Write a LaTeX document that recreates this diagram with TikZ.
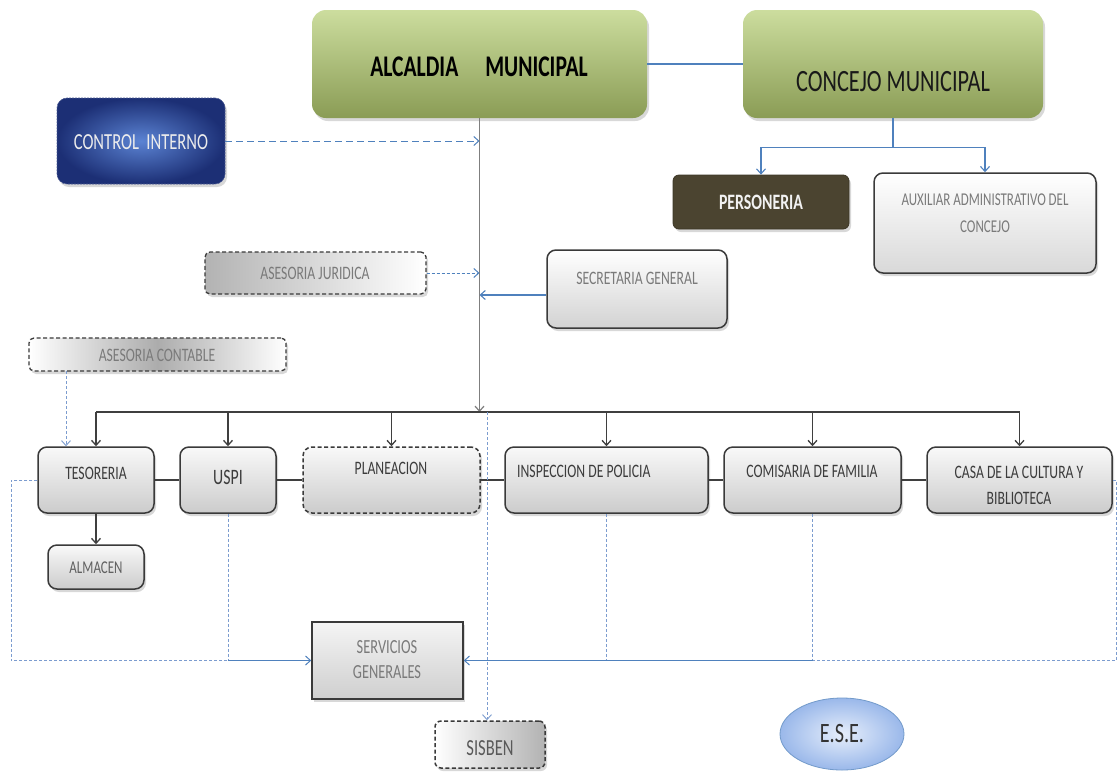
\documentclass[tikz,border=0pt]{standalone}
\usepackage{fontspec}
\setmainfont{Carlito}
\newfontfamily\cf[FakeStretch=0.72]{Carlito}
\usetikzlibrary{arrows.meta,shadows,shapes.geometric,calc}
\definecolor{gtop}{HTML}{CCDD9E}
\definecolor{gbot}{HTML}{8A9C55}
\definecolor{linkblue}{HTML}{4F81BD}
\definecolor{dashblue}{HTML}{7C9CCF}
\definecolor{mainline}{HTML}{7F7F7F}
\definecolor{busline}{HTML}{3F3F3F}
\definecolor{boxline}{HTML}{3A3A3A}
\definecolor{perfill}{HTML}{4B4430}
\definecolor{ciin}{HTML}{5B83D3}
\definecolor{ciout}{HTML}{1C2F75}
\definecolor{txtdark}{HTML}{3C3C3C}
\definecolor{txtmid}{HTML}{7A7A7A}
\definecolor{eseout}{HTML}{9AB8EA}
\definecolor{esein}{HTML}{E6EEFB}
\begin{document}
\begin{tikzpicture}[x=1pt,y=-1pt,
  shadowed/.style={drop shadow={opacity=0.3,shadow xshift=2pt,shadow yshift=-3pt}},
  greenbox/.style={shape=rectangle,rounded corners=14pt,top color=gtop,bottom color=gbot,draw=none,shadowed,inner sep=0pt},
  greybox/.style={shape=rectangle,rounded corners=9pt,draw=boxline,line width=1.5pt,top color=gray!5,bottom color=gray!40,shadowed,inner sep=0pt},
  dashbox/.style={greybox,dash pattern=on 4pt off 2.5pt},
  txt/.style={font=\cf\fontsize{19}{22}\selectfont,text=txtdark,inner sep=0pt,align=center},
  txtlight/.style={txt,text=txtmid},
  arrowend/.style={-{Straight Barb[length=5pt,width=9pt]}},
  bluelink/.style={draw=linkblue,line width=1.1pt},
  bluedash/.style={draw=dashblue,line width=0.9pt,dash pattern=on 3pt off 2pt},
  busl/.style={draw=busline,line width=1.5pt}
]
\fill[white] (0,0) rectangle (1118,774);
\useasboundingbox (0,0) rectangle (1118,774);

% top level
\node[greenbox,minimum width=335pt,minimum height=108pt] (alc) at (479.5,64) {};
\node[txt,text=black,font=\cf\bfseries\fontsize{30}{34}\selectfont] (alcT) at (479,67) {ALCALDIA\hspace{0.9em}MUNICIPAL};
\node[greenbox,minimum width=300pt,minimum height=108pt] (con) at (893,64) {};
\node[txt,text=black!90,font=\cf\fontsize{31}{34}\selectfont] (conT) at (893,82) {CONCEJO MUNICIPAL};

\node[shape=rectangle,rounded corners=10pt,inner color=ciin,outer color=ciout,draw=ciout!80,line width=0.6pt,dash pattern=on 2pt off 1pt,shadowed,minimum width=168pt,minimum height=86pt,inner sep=0pt] (ci) at (141,141) {};
\node[txt,text=gray!15,font=\cf\fontsize{23}{26}\selectfont] (ciT) at (141,142) {CONTROL\ \ INTERNO};

\node[shape=rectangle,rounded corners=6pt,fill=perfill,draw=perfill!80!black,line width=0.8pt,shadowed,minimum width=176pt,minimum height=54pt,inner sep=0pt] (per) at (761,202) {};
\node[txt,text=gray!10,font=\cf\bfseries\fontsize{22}{25}\selectfont] (perT) at (761,202) {PERSONERIA};

\node[greybox,top color=white,bottom color=gray!30,minimum width=222pt,minimum height=100pt] (aux) at (985,223) {};
\node[txtlight,font=\cf\fontsize{18}{27}\selectfont] (auxT) at (985,213) {AUXILIAR ADMINISTRATIVO DEL\\CONCEJO};

\node[dashbox,rounded corners=5pt,line width=1.3pt,left color=gray!60,right color=white,minimum width=221pt,minimum height=42pt] (aj) at (315.5,273) {};
\node[txtlight] (ajT) at (315,273) {ASESORIA JURIDICA};

\node[greybox,top color=white,bottom color=gray!35,minimum width=180pt,minimum height=78pt] (sg) at (637,289) {};
\node[txtlight] (sgT) at (637,278) {SECRETARIA GENERAL};

\node[dashbox,rounded corners=5pt,line width=1.3pt,left color=white,right color=white,middle color=gray!65,minimum width=257pt,minimum height=33pt] (ac) at (157.5,354.5) {};
\node[txtlight] (acT) at (157,355) {ASESORIA CONTABLE};

% second row
\node[greybox,minimum width=116pt,minimum height=66pt] (tes) at (96,480) {};
\node[txt] (tesT) at (96,473) {TESORERIA};
\node[greybox,minimum width=96pt,minimum height=66pt] (uspi) at (228,480) {};
\node[txt,font=\cf\fontsize{22}{25}\selectfont] (uspiT) at (228,477) {USPI};
\node[dashbox,minimum width=177pt,minimum height=66pt] (plan) at (391.5,480) {};
\node[txt] (planT) at (391,468) {PLANEACION};
\node[greybox,minimum width=203pt,minimum height=66pt] (insp) at (606.5,480) {};
\node[txt,anchor=west] (inspT) at (517,471) {INSPECCION DE POLICIA};
\node[greybox,minimum width=177pt,minimum height=66pt] (com) at (812.5,480) {};
\node[txt] (comT) at (812,471) {COMISARIA DE FAMILIA};
\node[greybox,minimum width=185pt,minimum height=66pt] (casa) at (1019.5,480) {};
\node[txt,font=\cf\fontsize{19}{26}\selectfont] (casaT) at (1019,485) {CASA DE LA CULTURA Y\\BIBLIOTECA};

\node[greybox,minimum width=96pt,minimum height=44pt] (alm) at (96,567) {};
\node[txt,font=\cf\fontsize{18}{21}\selectfont,text=gray!75!black] (almT) at (96,568) {ALMACEN};

\node[shape=rectangle,draw=boxline,line width=1.5pt,top color=gray!8,bottom color=gray!38,shadowed,minimum width=151pt,minimum height=77pt,inner sep=0pt] (sv) at (387.5,660.5) {};
\node[txtlight,font=\cf\fontsize{20}{25}\selectfont] (svT) at (387,660) {SERVICIOS\\GENERALES};

\node[dashbox,rounded corners=6pt,left color=white,right color=gray!60,minimum width=110pt,minimum height=47pt] (sis) at (490,744.5) {};
\node[txt,font=\cf\fontsize{23}{26}\selectfont,text=gray!70!black] (sisT) at (490,748) {SISBEN};

\node[shape=ellipse,inner color=esein,outer color=eseout,draw=linkblue!80,line width=0.8pt,minimum width=124pt,minimum height=72pt,inner sep=0pt,font=\cf\fontsize{28}{30}\selectfont,text=black!80] (ese) at (842,734) {E.S.E.};

% connectors top
\draw[bluelink] (alc.east) -- (con.west);
\draw[bluelink] (con.south) -- ++(0,29) coordinate (cj);
\draw[bluelink,arrowend] (cj) -| (per.north);
\draw[bluelink,arrowend] (cj) -| (aux.north);

\coordinate (bus) at (479.5,412);
\draw[draw=mainline,line width=1.2pt,arrowend] (alc.south) -- (bus);
\draw[draw=linkblue,line width=1pt,dash pattern=on 7pt off 4pt,arrowend] (ci.east) -- (ci.east -| alc.south);
\draw[draw=linkblue,line width=1pt,dash pattern=on 3pt off 2pt,arrowend] (aj.east) -- (aj.east -| alc.south);
\draw[bluelink,arrowend] ($(sg.west)+(0,6)$) -- ($(sg.west -| alc.south)+(0,6)$);
\coordinate (acb) at (66,371);
\draw[bluedash,arrowend] (acb) -- (acb |- tes.north);

% bus
\draw[busl] (tes.north |- bus) -- (casa.north |- bus);
\foreach \n in {tes,uspi,plan,insp,com,casa}
  \draw[busl,line width=1.3pt,arrowend] (\n.north |- bus) -- (\n.north);
\draw[busl] (tes.east) -- (uspi.west);
\draw[busl] (uspi.east) -- (plan.west);
\draw[busl] (plan.east) -- (insp.west);
\draw[busl] (insp.east) -- (com.west);
\draw[busl] (com.east) -- (casa.west);
\draw[busl,line width=1.3pt,arrowend] (tes.south) -- (alm.north);

% dashed service lines
\coordinate (lc) at (11,660.5);
\coordinate (rc) at (1116,660.5);
\draw[bluedash] (tes.west) -| (lc) -- (uspi.south |- sv.west);
\draw[bluedash] (uspi.south) -- (uspi.south |- sv.west);
\draw[bluelink,line width=1pt,arrowend] (uspi.south |- sv.west) -- (sv.west);
\draw[bluedash] (casa.east) -| (rc) -- (com.south |- sv.east);
\draw[bluedash] (insp.south) -- (insp.south |- sv.east);
\draw[bluedash] (com.south) -- (com.south |- sv.east);
\draw[bluelink,line width=1pt,arrowend] (com.south |- sv.east) -- (sv.east);
\coordinate (sb) at (487,412);
\draw[bluedash,arrowend] (sb) -- (sb |- sis.north);
\end{tikzpicture}
\end{document}
